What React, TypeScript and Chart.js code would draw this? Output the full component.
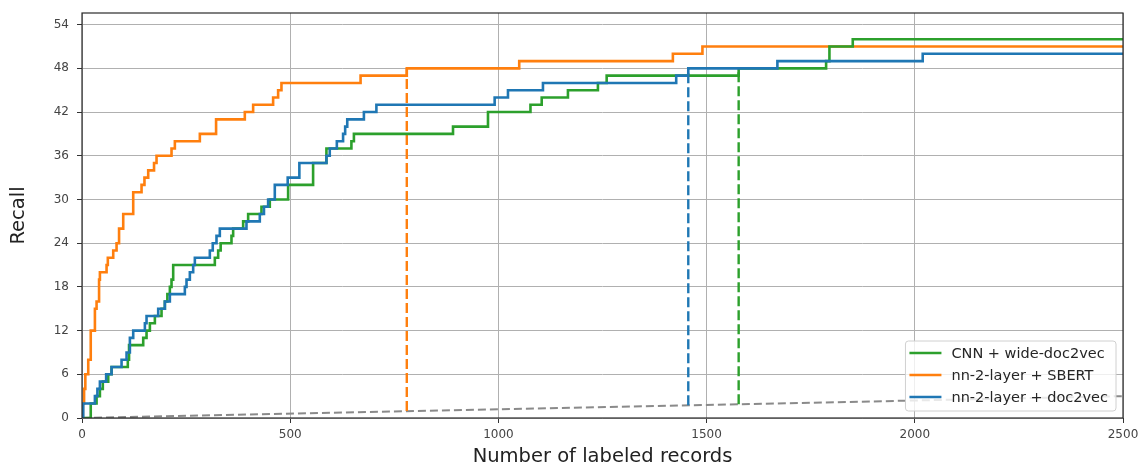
import React, { useEffect, useRef } from 'react';
import { Chart, registerables } from 'chart.js';

Chart.register(...registerables);

// ---- data ----
const seriesLabels = ['CNN + wide-doc2vec', 'nn-2-layer + SBERT', 'nn-2-layer + doc2vec'];
const seriesColors = ['#2ca02c', '#ff7f0e', '#1f77b4'];

// CNN + wide-doc2vec (step change points: x = labeled records, y = recall after step)
const cnnX = [0, 21, 35, 43, 50, 63, 71, 110, 113, 147, 155, 163, 175, 191, 199, 205, 211, 215, 219, 319, 327, 333, 359, 363, 387, 399, 431, 451, 495, 555, 587, 647, 653, 891, 975, 1077, 1104, 1167, 1239, 1260, 1577, 1787, 1795, 1851, 2500];
const cnnY = [0, 2, 3, 4, 5, 6, 7, 8, 10, 11, 12, 13, 14, 15, 16, 17, 18, 19, 21, 22, 23, 24, 25, 26, 27, 28, 29, 30, 32, 35, 37, 38, 39, 40, 42, 43, 44, 45, 46, 47, 48, 49, 51, 52, 52];

// nn-2-layer + SBERT
const sbertX = [0, 2, 5, 8, 15, 21, 31, 35, 41, 43, 59, 62, 75, 83, 89, 99, 123, 143, 150, 159, 173, 179, 215, 223, 283, 322, 391, 411, 459, 471, 479, 669, 780, 1050, 1419, 1490, 2500];
const sbertY = [0, 2, 4, 6, 8, 12, 15, 16, 19, 20, 21, 22, 23, 24, 26, 28, 31, 32, 33, 34, 35, 36, 37, 38, 39, 41, 42, 43, 44, 45, 46, 47, 48, 49, 50, 51, 51];

// nn-2-layer + doc2vec
const d2vX = [0, 3, 31, 37, 43, 58, 71, 95, 107, 115, 123, 151, 155, 183, 199, 211, 247, 251, 259, 267, 271, 307, 314, 323, 331, 395, 427, 437, 447, 463, 494, 522, 587, 595, 612, 627, 632, 637, 677, 707, 991, 1023, 1107, 1427, 1456, 1670, 2019, 2500];
const d2vY = [0, 2, 3, 4, 5, 6, 7, 8, 9, 11, 12, 13, 14, 15, 16, 17, 18, 19, 20, 21, 22, 23, 24, 25, 26, 27, 28, 29, 30, 32, 33, 35, 36, 37, 38, 39, 40, 41, 42, 43, 44, 45, 46, 47, 48, 49, 50, 50];

// random baseline (gray dashed)
const baseX = [0, 2500];
const baseY = [0, 3.0];

// vertical dashed cut-offs (CNN, SBERT, doc2vec)
const cutX = [1577, 780, 1456];
const cutLow = [1.9, 0.95, 1.75];
const cutHigh = [48, 48, 48];

const xTickValues = [0, 500, 1000, 1500, 2000, 2500];
const yTickValues = [0, 6, 12, 18, 24, 30, 36, 42, 48, 54];
const xMax = 2500;
const yMax = 55.6;

const FONT = '"DejaVu Sans", "Liberation Sans", sans-serif';

const toPts = (xs: number[], ys: number[]) => xs.map((x, i) => ({ x, y: ys[i] }));

const spinesPlugin = {
  id: 'spines',
  afterDatasetsDraw(chart: any) {
    const { ctx, chartArea } = chart;
    ctx.save();
    ctx.strokeStyle = '#2b2b2b';
    ctx.lineWidth = 1.2;
    ctx.strokeRect(chartArea.left, chartArea.top, chartArea.right - chartArea.left, chartArea.bottom - chartArea.top);
    ctx.restore();
  },
};

const legendPlugin = {
  id: 'boxLegend',
  afterDraw(chart: any) {
    const { ctx, chartArea } = chart;
    ctx.save();
    ctx.font = `14.5px ${FONT}`;
    const textW = Math.max(...seriesLabels.map((t) => ctx.measureText(t).width));
    const w = 46 + textW + 8;
    const h = 70;
    const right = chartArea.right - 7;
    const bottom = chartArea.bottom - 7;
    const left = right - w;
    const top = bottom - h;
    ctx.beginPath();
    (ctx as any).roundRect(left, top, w, h, 3);
    ctx.fillStyle = 'rgba(255,255,255,0.8)';
    ctx.fill();
    ctx.strokeStyle = '#d0d0d0';
    ctx.lineWidth = 1;
    ctx.stroke();
    seriesLabels.forEach((label, i) => {
      const cy = top + 12 + i * 22;
      ctx.strokeStyle = seriesColors[i];
      ctx.lineWidth = 2.6;
      ctx.setLineDash([]);
      ctx.beginPath();
      ctx.moveTo(left + 4, cy);
      ctx.lineTo(left + 36, cy);
      ctx.stroke();
      ctx.fillStyle = '#262626';
      ctx.textAlign = 'left';
      ctx.textBaseline = 'middle';
      ctx.fillText(label, left + 46, cy + 1);
    });
    ctx.restore();
  },
};

export default function App() {
  const canvasRef = useRef<HTMLCanvasElement | null>(null);

  useEffect(() => {
    if (!canvasRef.current) return;
    const mainX = [cnnX, sbertX, d2vX];
    const mainY = [cnnY, sbertY, d2vY];
    const zOrder = [2, 3, 1];

    const datasets: any[] = [];
    mainX.forEach((xs, i) => {
      datasets.push({
        label: seriesLabels[i],
        data: toPts(xs, mainY[i]),
        borderColor: seriesColors[i],
        backgroundColor: seriesColors[i],
        borderWidth: 2.6,
        stepped: 'before',
        pointRadius: 0,
        fill: false,
        order: zOrder[i],
      });
    });
    cutX.forEach((x, i) => {
      datasets.push({
        label: seriesLabels[i] + ' cut-off',
        data: [
          { x, y: cutLow[i] },
          { x, y: cutHigh[i] },
        ],
        borderColor: seriesColors[i],
        borderWidth: 2.4,
        borderDash: [10, 4],
        pointRadius: 0,
        fill: false,
        order: 4,
      });
    });
    datasets.push({
      label: 'random',
      data: toPts(baseX, baseY),
      borderColor: '#8a8a8a',
      borderWidth: 2,
      borderDash: [8, 4],
      pointRadius: 0,
      fill: false,
      order: 5,
    });

    const chart = new Chart(canvasRef.current, {
      type: 'line',
      data: { datasets },
      options: {
        animation: false,
        responsive: false,
        devicePixelRatio: 1,
        layout: { padding: { left: 0, top: 13, right: 18, bottom: 0 } },
        plugins: {
          legend: { display: false },
          tooltip: { enabled: false },
        },
        scales: {
          x: {
            type: 'linear',
            min: 0,
            max: xMax,
            afterBuildTicks: (scale: any) => {
              scale.ticks = xTickValues.map((v) => ({ value: v }));
            },
            afterFit: (scale: any) => {
              scale.height = 62;
              scale.paddingLeft = 0;
              scale.paddingRight = 0;
            },
            grid: { color: '#b0b0b0', lineWidth: 1, tickLength: 5, tickColor: '#333' },
            border: { display: false },
            ticks: {
              autoSkip: false,
              maxRotation: 0,
              padding: 5,
              color: '#444',
              font: { family: FONT, size: 12 },
              callback: (v: any) => String(v),
            },
            title: {
              display: true,
              text: 'Number of labeled records',
              color: '#222',
              font: { family: FONT, size: 19.5 },
              padding: { top: 0, bottom: 11.8 },
            },
          },
          y: {
            type: 'linear',
            min: 0,
            max: yMax,
            afterBuildTicks: (scale: any) => {
              scale.ticks = yTickValues.map((v) => ({ value: v }));
            },
            afterFit: (scale: any) => {
              scale.width = 82;
              scale.paddingTop = 0;
              scale.paddingBottom = 0;
            },
            grid: { color: '#b0b0b0', lineWidth: 1, tickLength: 5, tickColor: '#333' },
            border: { display: false },
            ticks: {
              autoSkip: false,
              padding: 8,
              color: '#444',
              font: { family: FONT, size: 12 },
              callback: (v: any) => String(v),
            },
            title: {
              display: true,
              text: 'Recall',
              color: '#222',
              font: { family: FONT, size: 19.5 },
              padding: { top: 7.5, bottom: 0 },
            },
          },
        },
      },
      plugins: [spinesPlugin, legendPlugin],
    } as any);

    return () => chart.destroy();
  }, []);

  return (
    <div
      style={{
        position: 'fixed',
        left: 0,
        top: 0,
        width: 1141,
        height: 466,
        overflow: 'hidden',
        background: '#fff',
      }}
    >
      <canvas ref={canvasRef} width={1141} height={480} style={{ display: 'block' }} />
    </div>
  );
}
